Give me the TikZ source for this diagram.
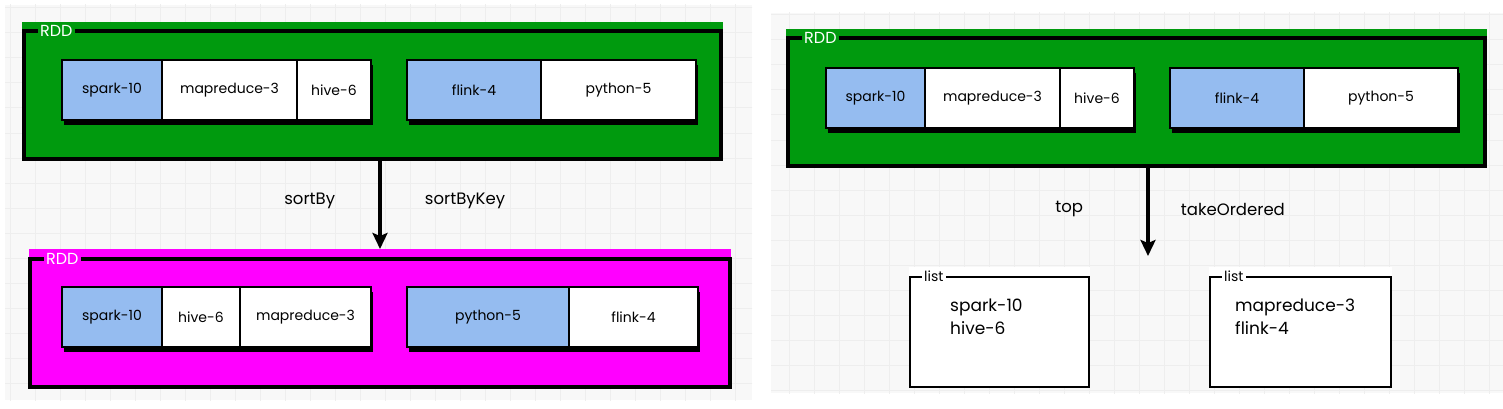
\documentclass[tikz,border=0pt]{standalone}
\usepackage{fontspec}
\setmainfont{Poppins}
\usetikzlibrary{positioning,shadows,arrows.meta}

\definecolor{rddgreen}{RGB}{0,154,14}
\definecolor{rddpink}{RGB}{255,0,255}
\definecolor{keyblue}{RGB}{149,188,240}
\definecolor{gridbg}{RGB}{248,248,248}
\definecolor{gridln}{RGB}{238,238,238}

\begin{document}
\begin{tikzpicture}
    [
    x=1pt, y=-1pt,
    basic/.style={draw, line width=1.4pt, text centered, inner sep=0pt, outer sep=0pt},
    cell/.style={basic, fill=white, minimum height=60pt, font=\fontsize{14}{16}\selectfont,
      drop shadow={shadow xshift=1.5pt, shadow yshift=-5pt, fill=black, opacity=1}},
    key/.style={cell, fill=keyblue},
    area/.style={inner sep=0pt, outer sep=0pt, anchor=north west},
    frame/.style={draw, line width=3.2pt},
    tag/.style={inner sep=2pt, anchor=west, font=\fontsize{16}{16}\selectfont},
    listtext/.style={anchor=north west, align=left, inner sep=0pt, font=\fontsize{17}{23}\selectfont},
    oplabel/.style={font=\fontsize{16.5}{18}\selectfont},
    gridline/.style={draw=gridln, line width=1pt},
    flow/.style={-{Stealth[length=16pt, width=15pt, inset=3pt]}, line width=3.2pt}
    ]
    \useasboundingbox (0,0) rectangle (1503,409);

    % Fondos cuadriculados
    \begin{scope}
      \clip (5,5) rectangle (752,400);
      \fill[gridbg] (5,5) rectangle (752,400);
      \foreach \gx in {10,35,...,760} \draw[gridline] (\gx,0) -- (\gx,405);
      \foreach \gy in {8,33,...,405} \draw[gridline] (0,\gy) -- (760,\gy);
    \end{scope}
    \begin{scope}
      \clip (771,13) rectangle (1503,393);
      \fill[gridbg] (771,13) rectangle (1503,393);
      \foreach \gx in {789,814,...,1510} \draw[gridline] (\gx,10) -- (\gx,400);
      \foreach \gy in {15,40,...,400} \draw[gridline] (765,\gy) -- (1510,\gy);
    \end{scope}

    % RDD de entrada (izquierda)
    \node [area, fill=rddgreen, minimum width=701pt, minimum height=139pt] (rddA) at (22,22) {};
    \draw [frame] ([shift={(2,9)}]rddA.north west) rectangle ([shift={(-2,-2)}]rddA.south east);
    \node [tag, fill=rddgreen, text=white] (tagA) at ([shift={(16,9)}]rddA.north west) {RDD};
    \node [key, minimum width=100pt, anchor=north west] (a1) at (62,60) {spark-10};
    \node [cell, minimum width=135pt, right=0pt of a1] (a2) {mapreduce-3};
    \node [cell, minimum width=74pt, right=0pt of a2] (a3) {hive-6};
    \node [key, minimum width=134pt, right=36pt of a3] (a4) {flink-4};
    \node [cell, minimum width=155pt, right=0pt of a4] (a5) {python-5};

    % RDD ordenado
    \node [area, fill=rddpink, minimum width=702pt, minimum height=140pt] (rddB) at (29,249) {};
    \draw [frame] ([shift={(1,10)}]rddB.north west) rectangle ([shift={(-1,-2)}]rddB.south east);
    \node [tag, fill=rddpink, text=white] (tagB) at ([shift={(15,10)}]rddB.north west) {RDD};
    \node [key, minimum width=100pt, anchor=north west] (b1) at (62,287) {spark-10};
    \node [cell, minimum width=78pt, right=0pt of b1] (b2) {hive-6};
    \node [cell, minimum width=131pt, right=0pt of b2] (b3) {mapreduce-3};
    \node [key, minimum width=162pt, right=36pt of b3] (b4) {python-5};
    \node [cell, minimum width=129pt, right=0pt of b4] (b5) {flink-4};

    \draw [flow] (rddA.south -| rddB.north) -- (rddB.north)
      node [oplabel, pos=.45, left=40pt] (opA) {sortBy}
      node [oplabel, pos=.45, right=40pt] (opB) {sortByKey};

    % RDD de entrada (derecha)
    \node [area, fill=rddgreen, minimum width=701pt, minimum height=139pt] (rddC) at (786,29) {};
    \draw [frame] ([shift={(2,9)}]rddC.north west) rectangle ([shift={(-2,-2)}]rddC.south east);
    \node [tag, fill=rddgreen, text=white] (tagC) at ([shift={(16,9)}]rddC.north west) {RDD};
    \node [key, minimum width=99pt, anchor=north west] (c1) at (826,68) {spark-10};
    \node [cell, minimum width=135pt, right=0pt of c1] (c2) {mapreduce-3};
    \node [cell, minimum width=74pt, right=0pt of c2] (c3) {hive-6};
    \node [key, minimum width=134pt, right=36pt of c3] (c4) {flink-4};
    \node [cell, minimum width=154pt, right=0pt of c4] (c5) {python-5};

    % Listas resultantes
    \node [area, fill=white, minimum width=181pt, minimum height=121pt] (listA) at (909,267) {};
    \draw [frame, line width=2.6pt] ([shift={(1,10)}]listA.north west) rectangle ([shift={(-1,-1)}]listA.south east);
    \node [tag, fill=white, font=\fontsize{14}{14}\selectfont] (tagD) at ([shift={(13,9)}]listA.north west) {list};
    \node [listtext] (itemsA) at ([shift={(41,32)}]listA.north west) {spark-10\\hive-6};

    \node [area, fill=white, minimum width=183pt, minimum height=121pt] (listB) at (1209,267) {};
    \draw [frame, line width=2.6pt] ([shift={(1,10)}]listB.north west) rectangle ([shift={(-1,-1)}]listB.south east);
    \node [tag, fill=white, font=\fontsize{14}{14}\selectfont] (tagE) at ([shift={(13,9)}]listB.north west) {list};
    \node [listtext] (itemsB) at ([shift={(26,32)}]listB.north west) {mapreduce-3\\flink-4};

    \coordinate (gather) at (1148,256);
    \draw [flow] (rddC.south -| gather) -- (gather)
      node [oplabel, pos=.47, left=60pt] (opC) {top}
      node [oplabel, pos=.47, right=28pt] (opD) {takeOrdered};
\end{tikzpicture}
\end{document}
